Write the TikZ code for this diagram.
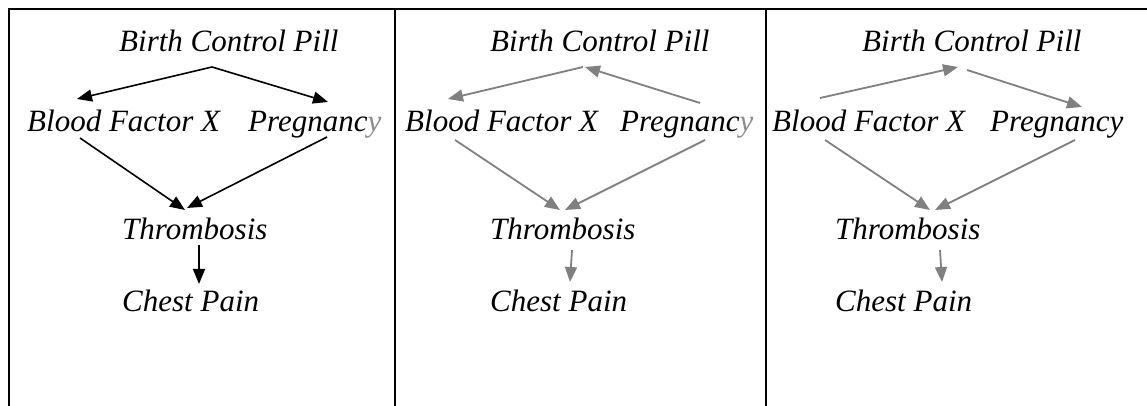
\documentclass[tikz,border=0pt]{standalone}
\usepackage{fontspec}
\setmainfont{Liberation Serif}
\usetikzlibrary{arrows.meta}
\definecolor{arrgray}{RGB}{128,128,128}
\definecolor{ygray}{RGB}{140,140,140}
\tikzset{
  lbl/.style={anchor=base west,inner sep=0pt,font=\fontsize{31}{37}\selectfont\itshape},
  blk/.style={line width=1.6pt,black,-{Triangle[length=15pt,width=12pt]}},
  gry/.style={line width=1.8pt,arrgray,-{Triangle[length=15pt,width=12pt]}},
  frame/.style={line width=2pt,black}
}
\begin{document}
\begin{tikzpicture}[x=1pt,y=1pt]
\useasboundingbox (0,0) rectangle (1147,406);
% frame
\coordinate (tl) at (9,397);
\coordinate (tr) at (1147,397);
\coordinate (bl) at (9,0);
\coordinate (d1t) at (395,397);
\coordinate (d1b) at (395,0);
\coordinate (d2t) at (766,397);
\coordinate (d2b) at (766,0);
\draw[frame] (bl) -- (tl) -- (tr);
\draw[frame] (d1t) -- (d1b);
\draw[frame] (d2t) -- (d2b);
% panel 1
\node[lbl] (bcp1) at (119,354) {Birth Control Pill};
\node[lbl] (bfx1) at (27,274) {Blood Factor X};
\node[lbl] (preg1) at (248,274) {Pregnanc{\color{ygray}y}};
\node[lbl] (thr1) at (122,166) {Thrombosis};
\node[lbl] (cp1) at (122,94) {Chest Pain};
\draw[blk] ([shift={(93,-15)}]bcp1.base west) -- ([shift={(50,33)}]bfx1.base west);
\draw[blk] ([shift={(93,-15)}]bcp1.base west) -- ([shift={(80,30)}]preg1.base west);
\draw[blk] ([shift={(53,-6)}]bfx1.base west) -- ([shift={(63,30)}]thr1.base west);
\draw[blk] ([shift={(79,-5)}]preg1.base west) -- ([shift={(65,32)}]thr1.base west);
\draw[blk] ([shift={(77,-5)}]thr1.base west) -- ([shift={(77,28)}]cp1.base west);
% panel 2
\node[lbl] (bcp2) at (490,354) {Birth Control Pill};
\node[lbl] (bfx2) at (405,274) {Blood Factor X};
\node[lbl] (preg2) at (620,274) {Pregnanc{\color{ygray}y}};
\node[lbl] (thr2) at (490,166) {Thrombosis};
\node[lbl] (cp2) at (490,94) {Chest Pain};
\draw[gry] ([shift={(80,29)}]preg2.base west) -- ([shift={(95,-15)}]bcp2.base west);
\draw[gry] ([shift={(93,-15)}]bcp2.base west) -- ([shift={(43,33)}]bfx2.base west);
\draw[gry] ([shift={(50,-8)}]bfx2.base west) -- ([shift={(70,30)}]thr2.base west);
\draw[gry] ([shift={(85,-8)}]preg2.base west) -- ([shift={(75,30)}]thr2.base west);
\draw[gry] ([shift={(82,-10)}]thr2.base west) -- ([shift={(80,30)}]cp2.base west);
% panel 3
\node[lbl] (bcp3) at (862,354) {Birth Control Pill};
\node[lbl] (bfx3) at (772,274) {Blood Factor X};
\node[lbl] (preg3) at (990,274) {Pregnancy};
\node[lbl] (thr3) at (835,166) {Thrombosis};
\node[lbl] (cp3) at (835,94) {Chest Pain};
\draw[gry] ([shift={(48,34)}]bfx3.base west) -- ([shift={(96,-15)}]bcp3.base west);
\draw[gry] ([shift={(105,-18)}]bcp3.base west) -- ([shift={(92,25)}]preg3.base west);
\draw[gry] ([shift={(53,-8)}]bfx3.base west) -- ([shift={(95,30)}]thr3.base west);
\draw[gry] ([shift={(85,-8)}]preg3.base west) -- ([shift={(100,30)}]thr3.base west);
\draw[gry] ([shift={(105,-10)}]thr3.base west) -- ([shift={(107,30)}]cp3.base west);
\end{tikzpicture}
\end{document}
